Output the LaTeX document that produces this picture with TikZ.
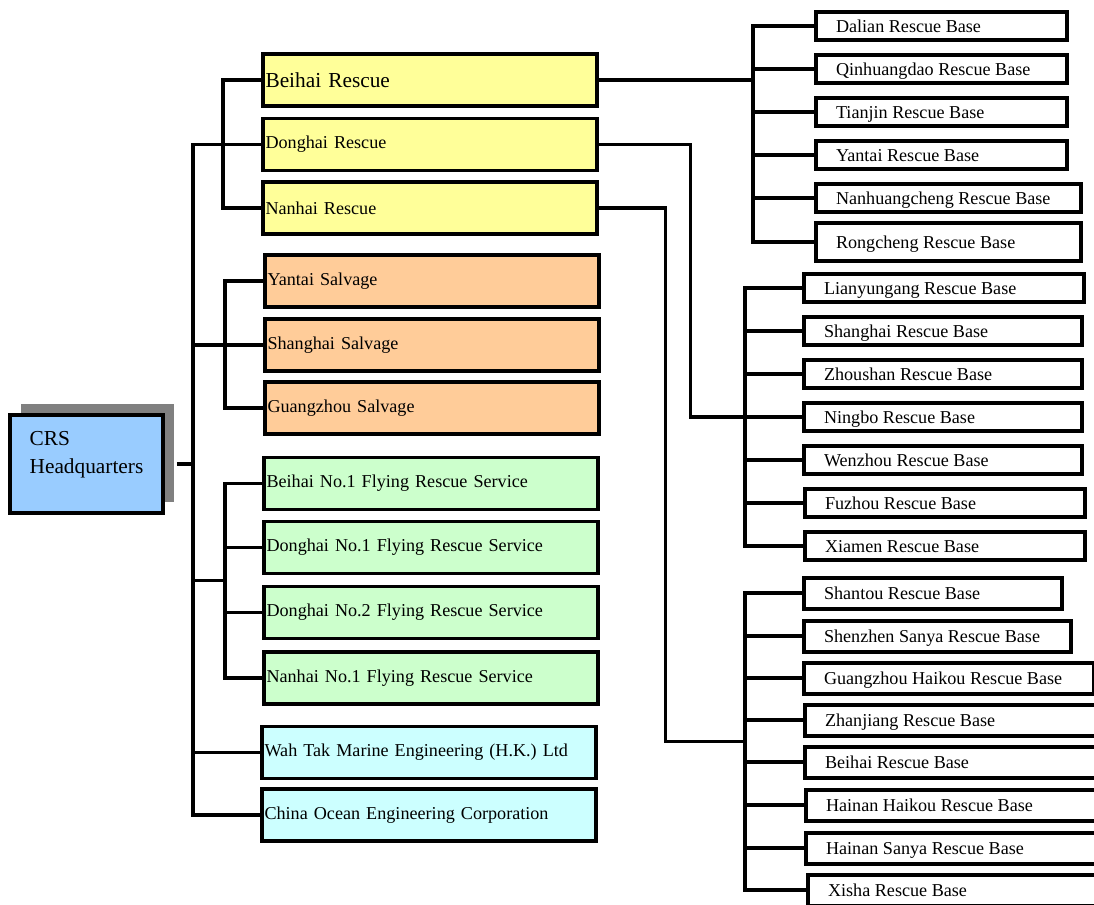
\documentclass[tikz,border=0pt]{standalone}
\usepackage{fontspec}
\setmainfont{Liberation Serif}
\usetikzlibrary{calc,shadows}
\definecolor{hqblue}{HTML}{99CCFF}
\definecolor{rescueyellow}{HTML}{FFFF99}
\definecolor{salvageorange}{HTML}{FFCC99}
\definecolor{flygreen}{HTML}{CCFFCC}
\definecolor{marinecyan}{HTML}{CCFFFF}
\definecolor{shadowgray}{HTML}{808080}
\tikzset{
  branch/.style={draw=black,line width=2.8pt,anchor=west,minimum height=39pt,
                 text width=246.5pt,align=left,inner xsep=2pt,
                 font=\fontsize{13.6pt}{16.3pt}\selectfont},
  station/.style={draw=black,line width=3pt,anchor=west,minimum height=21pt,
                  inner xsep=15pt,text depth=0pt,
                  font=\fontsize{13.6pt}{16.3pt}\selectfont,
                  execute at begin node={\hbox to #1\bgroup},
                  execute at end node={\hfil\egroup}},
  link/.style={draw=black,line width=2.6pt}
}

\begin{document}
\begin{tikzpicture}[
  x=0.75pt,y=-0.75pt,
  headoffice/.style={draw=black,line width=2.8pt,fill=hqblue,
                     minimum width=114.75pt,minimum height=73.5pt,
                     general shadow={fill=shadowgray,shadow xshift=8.25pt,shadow yshift=8.25pt},
                     font=\fontsize{16pt}{19pt}\selectfont,text height=12pt,text depth=40.5pt},
  southstation/.style={station=#1,minimum height=23.25pt}
]
  \useasboundingbox (0,0) rectangle (1094,905);
  \clip (0,0) rectangle (1094,905);

  % headquarters
  \node[headoffice] (hq) at (86.5,464)
    {\begin{tabular}[t]{@{}l@{}}CRS\\[2pt]Headquarters\end{tabular}};

  % first level
  \node[branch,fill=rescueyellow,font=\fontsize{16pt}{19pt}\selectfont] (beihai) at (261,80) {Beihai Rescue};
  \node[branch,fill=rescueyellow] (donghai) at (261,144.5) {Donghai Rescue};
  \node[branch,fill=rescueyellow] (nanhai) at (261,208) {Nanhai Rescue};
  \node[branch,fill=salvageorange] (yantaisal) at (263,281) {Yantai Salvage};
  \node[branch,fill=salvageorange] (shanghaisal) at (263,345) {Shanghai Salvage};
  \node[branch,fill=salvageorange] (guangzhousal) at (263,408) {Guangzhou Salvage};
  \node[branch,fill=flygreen] (beihaifly) at (262,483.5) {Beihai No.1 Flying Rescue Service};
  \node[branch,fill=flygreen] (donghaifly1) at (262,547.5) {Donghai No.1 Flying Rescue Service};
  \node[branch,fill=flygreen] (donghaifly2) at (262,612.5) {Donghai No.2 Flying Rescue Service};
  \node[branch,fill=flygreen] (nanhaifly) at (262,678) {Nanhai No.1 Flying Rescue Service};
  \node[branch,fill=marinecyan] (wahtak) at (260,752.5) {Wah Tak Marine Engineering (H.K.) Ltd};
  \node[branch,fill=marinecyan] (coec) at (260,815) {China Ocean Engineering Corporation};

  % north rescue bases
  \node[station=158pt] (dalian) at (814,26) {Dalian Rescue Base};
  \node[station=158pt] (qinhuangdao) at (814,69) {Qinhuangdao Rescue Base};
  \node[station=158pt] (tianjin) at (814,112) {Tianjin Rescue Base};
  \node[station=158pt] (yantaibase) at (814,155) {Yantai Rescue Base};
  \node[station=169pt] (nanhuangcheng) at (814,198) {Nanhuangcheng Rescue Base};
  \node[station=169pt,minimum height=28.5pt] (rongcheng) at (814,242) {Rongcheng Rescue Base};

  % east rescue bases
  \node[station=180pt] (lianyungang) at (802,288) {Lianyungang Rescue Base};
  \node[station=178.5pt] (shanghaibase) at (802,331) {Shanghai Rescue Base};
  \node[station=178.5pt] (zhoushan) at (802,374) {Zhoushan Rescue Base};
  \node[station=178.5pt] (ningbo) at (802,417) {Ningbo Rescue Base};
  \node[station=178.5pt] (wenzhou) at (802,460) {Wenzhou Rescue Base};
  \node[station=180pt] (fuzhou) at (803,503) {Fuzhou Rescue Base};
  \node[station=180pt] (xiamen) at (803,546) {Xiamen Rescue Base};

  % south rescue bases
  \node[southstation=163.5pt] (shantou) at (802,593) {Shantou Rescue Base};
  \node[southstation=170pt] (shenzhen) at (802,636) {Shenzhen Sanya Rescue Base};
  \node[southstation=187.5pt] (guangzhoubase) at (802,678) {Guangzhou Haikou Rescue Base};
  \node[southstation=195pt] (zhanjiang) at (803,720) {Zhanjiang Rescue Base};
  \node[southstation=195pt] (beihaibase) at (803,762) {Beihai Rescue Base};
  \node[southstation=195pt] (hainanhaikou) at (804,805) {Hainan Haikou Rescue Base};
  \node[southstation=195pt] (hainansanya) at (804,848) {Hainan Sanya Rescue Base};
  \node[southstation=195pt] (xisha) at (806,890) {Xisha Rescue Base};

  % left side connectors
  \draw[link] (donghai.west) -- ++(-68,0) coordinate (trunk) |- (coec.west);
  \draw[link] ([xshift=9pt]hq.east) -- (hq.east -| trunk);
  \draw[link] (shanghaisal.west) -- (shanghaisal.west -| trunk);
  \draw[link] (wahtak.west) -- (wahtak.west -| trunk);
  \draw[link] (beihai.west) -- ++(-38,0) |- (nanhai.west);
  \draw[link] (yantaisal.west) -- ++(-38,0) |- (guangzhousal.west);
  \draw[link] (beihaifly.west) -- ++(-37,0) coordinate (flytop) |- (nanhaifly.west);
  \foreach \n in {donghaifly1,donghaifly2}
    \draw[link] (\n.west) -- ++(-37,0);
  \coordinate (flymid) at ($(flytop)!0.5!(nanhaifly.west -| flytop)$);
  \draw[link] (flymid) -- (flymid -| trunk);

  % right side connectors
  \draw[link] (dalian.west) -- ++(-61,0) coordinate (northbus) |- (rongcheng.west);
  \foreach \n in {qinhuangdao,tianjin,yantaibase,nanhuangcheng}
    \draw[link] (\n.west) -- (\n.west -| northbus);
  \draw[link] (beihai.east) -- (beihai.east -| northbus);

  \draw[link] (lianyungang.west) -- ++(-57,0) coordinate (eastbus) |- (xiamen.west);
  \foreach \n in {shanghaibase,zhoushan,ningbo,wenzhou,fuzhou}
    \draw[link] (\n.west) -- (\n.west -| eastbus);
  \draw[link] (donghai.east) -- ++(92,0) |- (ningbo.west);

  \draw[link] (shantou.west) -- ++(-57,0) coordinate (southbus) |- (xisha.west);
  \foreach \n in {shenzhen,guangzhoubase,zhanjiang,beihaibase,hainanhaikou,hainansanya}
    \draw[link] (\n.west) -- (\n.west -| southbus);
  \coordinate (southmid) at ($(southbus)!0.5!(xisha.west -| southbus)$);
  \draw[link] (nanhai.east) -- ++(67,0) |- (southmid);
\end{tikzpicture}
\end{document}
